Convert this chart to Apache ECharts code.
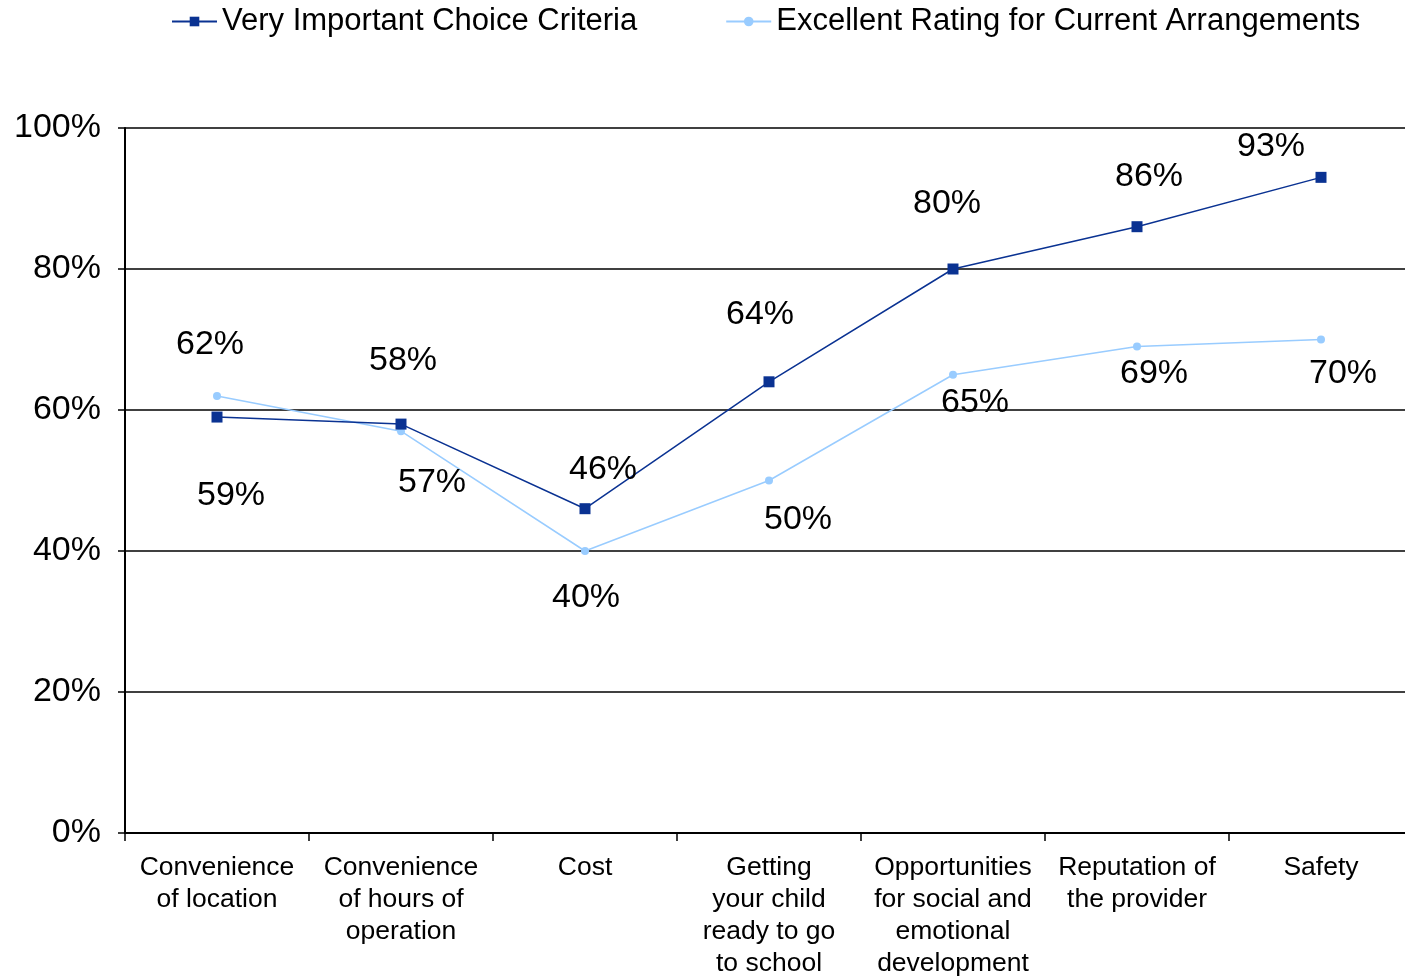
<!DOCTYPE html>
<html>
<head>
<meta charset="utf-8">
<script src="https://cdn.jsdelivr.net/npm/echarts@6/dist/echarts.min.js"></script>
<style>
  html, body { margin: 0; padding: 0; background: #fff; }
  #chart { width: 1405px; height: 977px; }
</style>
</head>
<body>
<div id="chart"></div>
<script>
// categories (line breaks as in the original)
const categories = [
  'Convenience\nof location',
  'Convenience\nof hours of\noperation',
  'Cost',
  'Getting\nyour child\nready to go\nto school',
  'Opportunities\nfor social and\nemotional\ndevelopment',
  'Reputation of\nthe provider',
  'Safety'
]
const veryImportant = [59, 58, 46, 64, 80, 86, 93]
const excellentRating = [62, 57, 40, 50, 65, 69, 70]
const yTicks = [0, 20, 40, 60, 80, 100]

// where each value label sits relative to its point (label styling only)
const darkLabelOffsets = [[14, 79], [2, -63], [18, -39], [-9, -67], [-6, -65], [12, -50], [-50, -31]]
const lightLabelOffsets = [[-7, -51], [31, 51], [1, 47], [29, 39], [22, 28], [17, 27], [22, 34]]

const FONT = "'Liberation Sans', Arial, sans-serif"
const DARK = '#0A3292'
const LIGHT = '#99CCFF'

function withLabels(values, offsets) {
  return values.map((v, i) => ({
    value: v,
    label: { offset: offsets[i] }
  }))
}

const chart = echarts.init(document.getElementById('chart'))
const option = {
  backgroundColor: '#fff',
  animation: false,
  textStyle: { fontFamily: FONT },
  legend: {
    left: 166,
    top: 1,
    itemWidth: 45,
    itemHeight: 12,
    itemGap: 88,
    itemStyle: { borderWidth: 0 },
    textStyle: { fontSize: 31, color: '#000', fontFamily: FONT },
    data: ['Very Important Choice Criteria', 'Excellent Rating for Current Arrangements']
  },
  grid: {
    left: 125, right: -8, top: 128, bottom: 144,
    containLabel: false, outerBoundsMode: 'none'
  },
  xAxis: {
    type: 'category',
    data: categories,
    boundaryGap: true,
    axisLine: { lineStyle: { color: '#000', width: 2 } },
    axisTick: { show: true, length: 8, lineStyle: { color: '#000', width: 1.5 } },
    axisLabel: {
      color: '#000', fontSize: 26.5, lineHeight: 32, margin: 19,
      interval: 0, fontFamily: FONT, align: 'center'
    },
    splitLine: { show: false }
  },
  yAxis: {
    type: 'value',
    min: yTicks[0],
    max: yTicks[yTicks.length - 1],
    interval: 20,
    axisLine: { show: true, lineStyle: { color: '#000', width: 2 } },
    axisTick: { show: true, length: 7, lineStyle: { color: '#000', width: 1.5 } },
    axisLabel: { color: '#000', fontSize: 34, margin: 24, formatter: '{value}%', fontFamily: FONT },
    splitLine: { show: true, lineStyle: { color: '#000', width: 1.5 } }
  },
  series: [
    {
      name: 'Very Important Choice Criteria',
      type: 'line',
      data: withLabels(veryImportant, darkLabelOffsets),
      symbol: 'rect',
      symbolSize: 11,
      lineStyle: { color: DARK, width: 1.5 },
      itemStyle: { color: DARK },
      z: 3,
      label: {
        show: true, position: 'inside', formatter: '{c}%',
        color: '#000', fontSize: 34, fontFamily: FONT
      }
    },
    {
      name: 'Excellent Rating for Current Arrangements',
      type: 'line',
      data: withLabels(excellentRating, lightLabelOffsets),
      symbol: 'circle',
      symbolSize: 8,
      lineStyle: { color: LIGHT, width: 1.5 },
      itemStyle: { color: LIGHT },
      z: 2,
      label: {
        show: true, position: 'inside', formatter: '{c}%',
        color: '#000', fontSize: 34, fontFamily: FONT
      }
    }
  ]
}
chart.setOption(option)
</script>
</body>
</html>
